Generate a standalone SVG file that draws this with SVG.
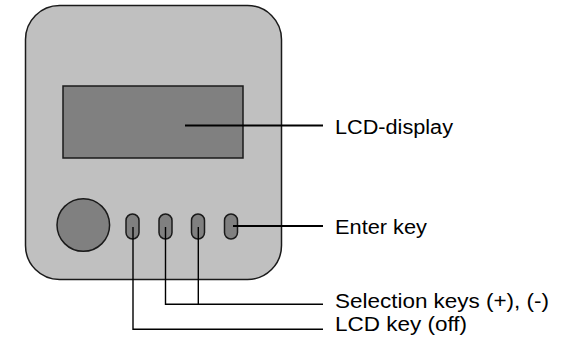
<svg xmlns="http://www.w3.org/2000/svg" width="573" height="345" viewBox="0 0 573 345">
<style>
.body{fill:#c0c0c0;stroke:#1a1a1a;stroke-width:1.5}
.dark{fill:#808080;stroke:#1a1a1a;stroke-width:1.5}
.lead{fill:none;stroke:#000;stroke-linejoin:miter}
.lbl{font-family:"Liberation Sans",Arial,sans-serif;font-size:20px;fill:#000}
</style>
<rect width="573" height="345" fill="#fff"/>
<g id="device">
<rect class="body" x="25.5" y="5.5" width="256" height="274" rx="34" ry="34"/>
</g>
<g id="lcd-display">
<rect class="dark" x="63" y="86" width="180" height="72" stroke-width="1"/>
</g>
<g id="knob">
<circle class="dark" cx="83.3" cy="225" r="26.3"/>
</g>
<g id="key-lcd"><rect class="dark" x="126" y="214" width="13" height="25" rx="6.5"/></g>
<g id="key-plus"><rect class="dark" x="159" y="214" width="13" height="25" rx="6.5"/></g>
<g id="key-minus"><rect class="dark" x="191.5" y="214" width="13" height="25" rx="6.5"/></g>
<g id="key-enter"><rect class="dark" x="224.5" y="214" width="13" height="25" rx="6.5"/></g>
<g id="connectors">
<path class="lead" stroke-width="2" d="M185 125.5H323"/>
<path class="lead" stroke-width="2" d="M233 226H323"/>
<path class="lead" stroke-width="1.4" d="M165.5 227V304.3H323M198.3 227V304.3"/>
<path class="lead" stroke-width="1.4" d="M133 227V329.3H323"/>
</g>
<g id="labels">
<text class="lbl" x="335" y="133.7" textLength="118" lengthAdjust="spacingAndGlyphs">LCD-display</text>
<text class="lbl" x="335" y="233.7" textLength="92" lengthAdjust="spacingAndGlyphs">Enter key</text>
<text class="lbl" x="335" y="308.3" textLength="214" lengthAdjust="spacingAndGlyphs">Selection keys (+), (-)</text>
<text class="lbl" x="335" y="331" textLength="132" lengthAdjust="spacingAndGlyphs">LCD key (off)</text>
</g>
</svg>
